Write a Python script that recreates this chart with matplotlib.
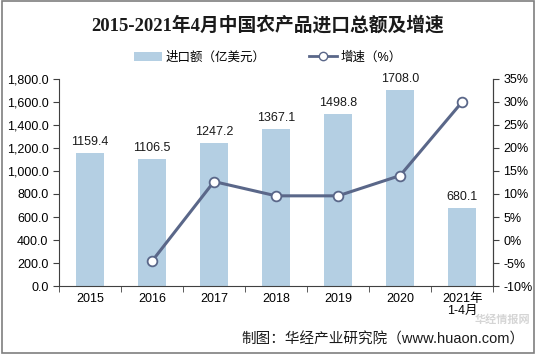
import matplotlib.pyplot as plt
from matplotlib.ticker import FuncFormatter
from matplotlib.lines import Line2D
from matplotlib.patches import Patch, Rectangle

plt.rcParams['font.family'] = ['Liberation Sans', 'Noto Sans CJK SC', 'DejaVu Sans']

years = ['2015', '2016', '2017', '2018', '2019', '2020', '2021年\n1-4月']
imports = [1159.4, 1106.5, 1247.2, 1367.1, 1498.8, 1708.0, 680.1]
growth_years = [1, 2, 3, 4, 5, 6]
growth = [-4.6, 12.7, 9.6, 9.6, 14.0, 30.0]

bar_color = '#b4cfe3'
line_color = '#5a6789'

fig = plt.figure(figsize=(5.36, 3.54), dpi=100)
fig.patches.append(Rectangle((0.004, 0.004), 0.992, 0.992, transform=fig.transFigure,
                             fill=False, edgecolor='#7f7f7f', linewidth=1.2))

ax = fig.add_axes([0.110, 0.192, 0.810, 0.585])
x = range(len(years))
bars = ax.bar(x, imports, width=0.45, color=bar_color, zorder=1)
for i, v in enumerate(imports):
    ax.text(i, v + 40, f'{v:.1f}', ha='center', va='bottom', fontsize=9, color='#1a1a1a')

ax.set_ylim(0, 1800)
ax.set_yticks(range(0, 1801, 200))
ax.yaxis.set_major_formatter(FuncFormatter(lambda v, p: f'{v:,.1f}'))
ax.set_xlim(-0.5, len(years) - 0.5)
ax.set_xticks(list(x))
ax.set_xticklabels(years, fontsize=9, linespacing=1.0)
ax.set_xticks([i + 0.5 for i in range(-1, len(years))], minor=True)
ax.tick_params(axis='x', which='major', length=0, pad=5)
ax.tick_params(axis='x', which='minor', length=4, color='#404040')
ax.tick_params(axis='y', labelsize=9, length=4, color='#404040')
for s in ['left', 'bottom', 'right']:
    ax.spines[s].set_color('#404040')
    ax.spines[s].set_linewidth(0.8)
ax.spines['top'].set_visible(False)

ax2 = ax.twinx()
ax2.plot(growth_years, growth, color=line_color, linewidth=2.2, marker='o',
         markersize=7, markerfacecolor='white', markeredgecolor=line_color,
         markeredgewidth=1.3, zorder=3)
ax2.set_ylim(-10, 35)
ax2.set_yticks(range(-10, 36, 5))
ax2.yaxis.set_major_formatter(FuncFormatter(lambda v, p: f'{v:.0f}%'))
ax2.tick_params(axis='y', labelsize=9, length=4, color='#404040')
for s in ['left', 'bottom', 'top']:
    ax2.spines[s].set_visible(False)
ax2.spines['right'].set_color('#404040')
ax2.spines['right'].set_linewidth(0.8)

fig.text(0.5, 0.928, '2015-2021年4月中国农产品进口总额及增速', ha='center', va='center',
         fontsize=13.5, fontweight='bold', color='#1a1a1a',
         family=['Liberation Serif', 'Noto Sans CJK SC'])

handles = [Patch(facecolor=bar_color, edgecolor='none'),
           Line2D([0], [0], color=line_color, linewidth=2, marker='o', markersize=6,
                  markerfacecolor='white', markeredgecolor=line_color)]
fig.legend(handles, ['进口额（亿美元）', '增速（%）'], loc='center', bbox_to_anchor=(0.5, 0.838),
           ncol=2, frameon=False, fontsize=9, handlelength=2.2, columnspacing=3.5,
           handletextpad=0.3)

fig.text(0.99, 0.098, '华经情报网', ha='right', va='center', fontsize=8,
         color='#d5d5d5', fontweight='bold')
fig.text(0.978, 0.042, '制图：华经产业研究院（www.huaon.com）', ha='right', va='center',
         fontsize=10.5, color='#1a1a1a')

fig.savefig('out.png', dpi=100)
